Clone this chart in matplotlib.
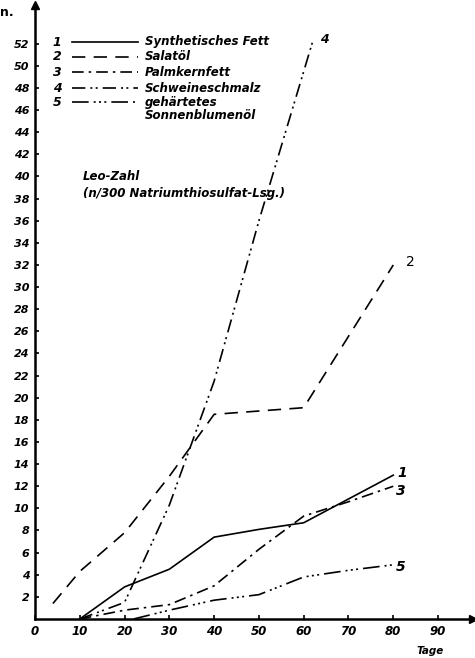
import numpy as np
import matplotlib
matplotlib.use("Agg")
import matplotlib.pyplot as plt
from matplotlib.lines import Line2D

# data (Tage, Leo-Zahl)
x1 = [10, 20, 30, 40, 50, 60, 80]
y1 = [0, 2.9, 4.5, 7.4, 8.1, 8.7, 13.0]
x2 = [4, 10, 20, 30, 40, 60, 80]
y2 = [1.4, 4.3, 7.8, 12.9, 18.5, 19.1, 32.0]
x3 = [10, 20, 30, 40, 50, 60, 70, 80]
y3 = [0, 0.8, 1.3, 3.0, 6.3, 9.3, 10.6, 12.0]
x4 = [10, 20, 30, 40, 50, 62]
y4 = [0, 1.5, 10.3, 21.5, 36.0, 52.2]
x5 = [22, 30, 40, 50, 60, 70, 80]
y5 = [0, 0.8, 1.7, 2.2, 3.8, 4.4, 4.9]

names = ["Synthetisches Fett", "Salatöl", "Palmkernfett",
         "Schweineschmalz", "gehärtetes\nSonnenblumenöl"]
styles = ["-", (0, (8, 5)), (0, (7, 3, 1.5, 3)),
          (0, (8, 3, 1.2, 2, 1.2, 3)), (0, (10, 3, 1.2, 2, 1.2, 2, 1.2, 3))]

xticks = list(range(0, 100, 10))
yticks = list(range(2, 54, 2))

fnt = dict(family="DejaVu Sans", style="italic", fontweight="bold")

fig = plt.figure(figsize=(4.75, 6.58), dpi=100)
ax = fig.add_axes([35 / 475, 39 / 658, 438 / 475, 614 / 658])
ax.set_xlim(0, 97.8)
ax.set_ylim(0, 55.5)

series = [(x1, y1), (x2, y2), (x3, y3), (x4, y4), (x5, y5)]
for (xs, ys), ls in zip(series, styles):
    ax.plot(xs, ys, color="black", lw=1.2, linestyle=ls)

# curve numbers
ax.text(81, 13.2, "1", fontsize=10, va="center", **fnt)
ax.text(82.8, 32.3, "2", fontsize=10, va="center", family="DejaVu Sans")
ax.text(80.6, 11.6, "3", fontsize=10, va="center", **fnt)
ax.text(63.6, 52.4, "4", fontsize=9, va="center", **fnt)
ax.text(80.6, 4.7, "5", fontsize=10, va="center", **fnt)

# axes with arrows
for s in ["top", "right"]:
    ax.spines[s].set_visible(False)
ax.spines["left"].set_linewidth(1.8)
ax.spines["bottom"].set_linewidth(1.8)
ax.plot(0, 1, "^k", ms=6, transform=ax.transAxes, clip_on=False)
ax.plot(1, 0, ">k", ms=6, transform=ax.transAxes, clip_on=False)

ax.set_xticks(xticks)
ax.set_xticklabels([str(v) for v in xticks], fontsize=8.5, **fnt)
ax.set_yticks(yticks)
ax.set_yticklabels([str(v) for v in yticks], fontsize=8, **fnt)
ax.tick_params(axis="both", direction="in", length=3, width=1.2, pad=4)

ax.text(48 / 438, 1 - (176 - 5) / 614, "Leo-Zahl", transform=ax.transAxes,
        fontsize=8.5, va="center", **fnt)
ax.text(48 / 438, 1 - (193 - 5) / 614, "(n/300 Natriumthiosulfat-Lsg.)",
        transform=ax.transAxes, fontsize=8.5, va="center", **fnt)
fig.text(430 / 475, 1 - 651 / 658, "Tage", fontsize=7.5, ha="center",
         va="center", **fnt)
fig.text(0, 1 - 12 / 658, "n.", fontsize=9, va="center", fontweight="bold")

# legend drawn by hand
rows = [42, 57, 72, 88, 102]
for i, (r, nm, ls) in enumerate(zip(rows, names, styles)):
    yf = 1 - r / 658
    fig.text(57 / 475, yf, str(i + 1), fontsize=9, ha="center", va="center", **fnt)
    fig.add_artist(Line2D([72 / 475, 138 / 475], [yf, yf], color="black",
                          lw=1.2, linestyle=ls))
    ty = 1 - (r + 7) / 658 if "\n" in nm else yf
    fig.text(145 / 475, ty, nm, fontsize=8.5, va="center",
             linespacing=0.95, **fnt)

fig.savefig("out.png", dpi=100)
